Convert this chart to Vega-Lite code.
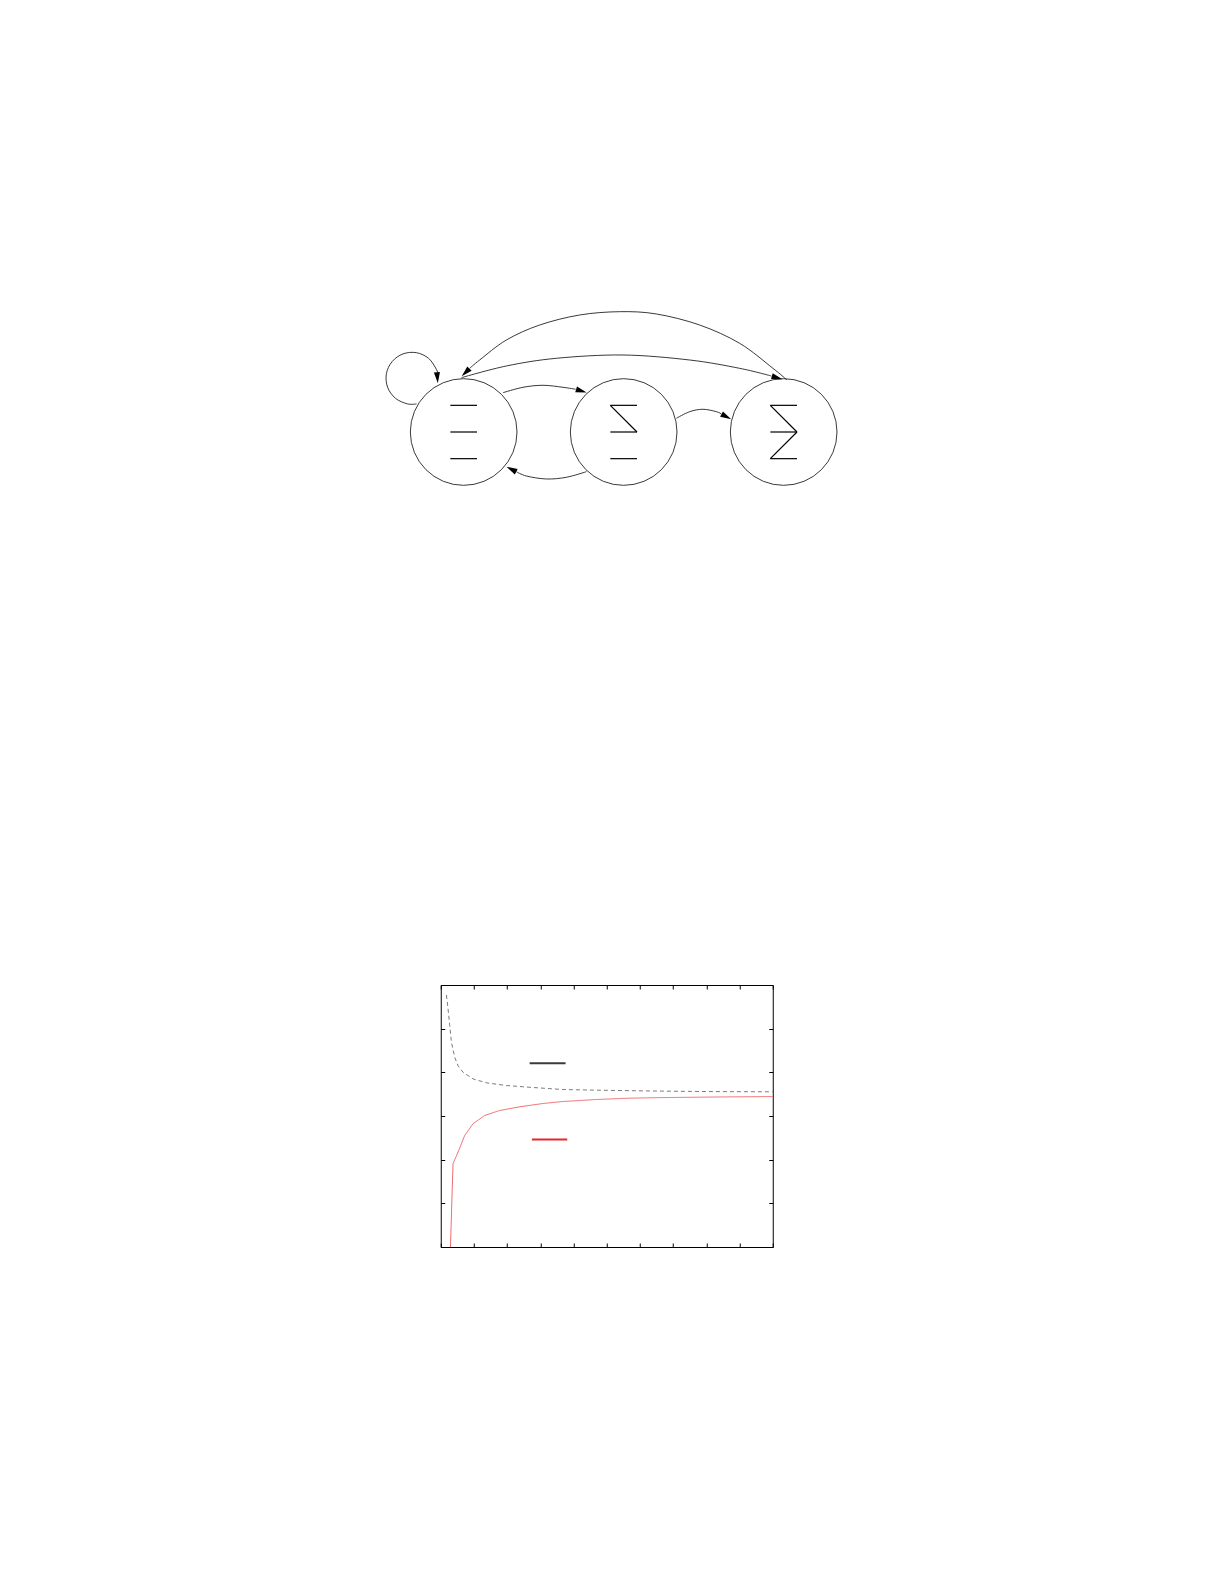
{
  "$schema": "https://vega.github.io/schema/vega-lite/v6.json",
  "padding": {"left": 357, "top": 290, "right": 0, "bottom": 0},
  "spacing": 494,
  "center": true,
  "config": {
    "view": {"stroke": null},
    "axis": {"labels": false, "grid": false, "tickSize": -4, "tickColor": "black", "domainColor": "black", "domainWidth": 1, "tickWidth": 1}
  },
  "datasets": {
    "nodes": [
      {"node": "s0", "u": 0, "v": 0},
      {"node": "s1", "u": 30, "v": 0},
      {"node": "s2", "u": 60, "v": 0}
    ],
    "glyphs": [
      {"node": "s0", "u1": -2.5, "v1": 5, "u2": 2.5, "v2": 5},
      {"node": "s0", "u1": -2.5, "v1": 0, "u2": 2.5, "v2": 0},
      {"node": "s0", "u1": -2.5, "v1": -5, "u2": 2.5, "v2": -5},
      {"node": "s1", "u1": 27.5, "v1": 5, "u2": 32.5, "v2": 5},
      {"node": "s1", "u1": 27.5, "v1": 5, "u2": 32.5, "v2": 0},
      {"node": "s1", "u1": 27.5, "v1": 0, "u2": 32.5, "v2": 0},
      {"node": "s1", "u1": 27.5, "v1": -5, "u2": 32.5, "v2": -5},
      {"node": "s2", "u1": 57.5, "v1": 5, "u2": 62.5, "v2": 5},
      {"node": "s2", "u1": 57.5, "v1": 5, "u2": 62.5, "v2": 0},
      {"node": "s2", "u1": 57.5, "v1": 0, "u2": 62.5, "v2": 0},
      {"node": "s2", "u1": 62.5, "v1": 0, "u2": 57.5, "v2": -5},
      {"node": "s2", "u1": 57.5, "v1": -5, "u2": 62.5, "v2": -5}
    ],
    "edges": [
      {"edge": "s2-s0", "i": 0, "u": 60.62, "v": 9.75},
      {"edge": "s2-s0", "i": 1, "u": 57.99, "v": 11.94},
      {"edge": "s2-s0", "i": 2, "u": 51.75, "v": 16.63},
      {"edge": "s2-s0", "i": 3, "u": 44.25, "v": 20.06},
      {"edge": "s2-s0", "i": 4, "u": 36.13, "v": 22.13},
      {"edge": "s2-s0", "i": 5, "u": 29.25, "v": 22.56},
      {"edge": "s2-s0", "i": 6, "u": 21.75, "v": 21.94},
      {"edge": "s2-s0", "i": 7, "u": 14.25, "v": 20.06},
      {"edge": "s2-s0", "i": 8, "u": 8.01, "v": 17.25},
      {"edge": "s2-s0", "i": 9, "u": 3.0, "v": 13.5},
      {"edge": "s2-s0", "i": 10, "u": 1.13, "v": 11.94},
      {"edge": "s0-s2", "i": 0, "u": -0.43, "v": 10.18},
      {"edge": "s0-s2", "i": 1, "u": 8.01, "v": 12.38},
      {"edge": "s0-s2", "i": 2, "u": 17.38, "v": 13.82},
      {"edge": "s0-s2", "i": 3, "u": 29.87, "v": 14.44},
      {"edge": "s0-s2", "i": 4, "u": 42.38, "v": 13.5},
      {"edge": "s0-s2", "i": 5, "u": 51.75, "v": 11.94},
      {"edge": "s0-s2", "i": 6, "u": 57.69, "v": 10.5},
      {"edge": "s0-s1", "i": 0, "u": 7.37, "v": 7.37},
      {"edge": "s0-s1", "i": 1, "u": 11.12, "v": 8.38},
      {"edge": "s0-s1", "i": 2, "u": 14.87, "v": 8.76},
      {"edge": "s0-s1", "i": 3, "u": 18.62, "v": 8.38},
      {"edge": "s0-s1", "i": 4, "u": 21.0, "v": 8.01},
      {"edge": "s1-s2", "i": 0, "u": 39.88, "v": 2.57},
      {"edge": "s1-s2", "i": 1, "u": 42.38, "v": 3.81},
      {"edge": "s1-s2", "i": 2, "u": 44.87, "v": 4.26},
      {"edge": "s1-s2", "i": 3, "u": 47.38, "v": 3.81},
      {"edge": "s1-s2", "i": 4, "u": 48.32, "v": 3.38},
      {"edge": "s1-s0", "i": 0, "u": 23.01, "v": -7.44},
      {"edge": "s1-s0", "i": 1, "u": 19.26, "v": -8.49},
      {"edge": "s1-s0", "i": 2, "u": 15.51, "v": -8.81},
      {"edge": "s1-s0", "i": 3, "u": 11.76, "v": -8.25},
      {"edge": "s1-s0", "i": 4, "u": 9.88, "v": -7.44},
      {"edge": "s0-s0", "i": 0, "u": -8.84, "v": 5.27},
      {"edge": "s0-s0", "i": 1, "u": -10.54, "v": 5.27},
      {"edge": "s0-s0", "i": 2, "u": -12.82, "v": 6.34},
      {"edge": "s0-s0", "i": 3, "u": -14.27, "v": 8.4},
      {"edge": "s0-s0", "i": 4, "u": -14.49, "v": 10.92},
      {"edge": "s0-s0", "i": 5, "u": -13.42, "v": 13.2},
      {"edge": "s0-s0", "i": 6, "u": -11.36, "v": 14.65},
      {"edge": "s0-s0", "i": 7, "u": -8.84, "v": 14.87},
      {"edge": "s0-s0", "i": 8, "u": -6.56, "v": 13.8},
      {"edge": "s0-s0", "i": 9, "u": -5.11, "v": 11.74},
      {"edge": "s0-s0", "i": 10, "u": -4.9, "v": 11.0}
    ],
    "arrows": [
      {"edge": "s2-s0", "u": 0.36, "v": 11.16, "heading": 225},
      {"edge": "s0-s2", "u": 58.78, "v": 10.18, "heading": 106},
      {"edge": "s0-s1", "u": 22.07, "v": 7.69, "heading": 107},
      {"edge": "s1-s2", "u": 49.26, "v": 2.87, "heading": 118},
      {"edge": "s1-s0", "u": 8.94, "v": -6.98, "heading": 297},
      {"edge": "s0-s0", "u": -4.93, "v": 10.16, "heading": 175}
    ],
    "curves": [
      {"series": "A", "x": 17.1, "y": 2.886},
      {"series": "A", "x": 22, "y": 2.726},
      {"series": "A", "x": 27.1, "y": 2.535},
      {"series": "A", "x": 32.2, "y": 2.344},
      {"series": "A", "x": 42.1, "y": 2.172},
      {"series": "A", "x": 52, "y": 2.077},
      {"series": "A", "x": 67.1, "y": 2.001},
      {"series": "A", "x": 97.1, "y": 1.925},
      {"series": "A", "x": 137.4, "y": 1.88},
      {"series": "A", "x": 197.6, "y": 1.849},
      {"series": "A", "x": 267.7, "y": 1.829},
      {"series": "A", "x": 367.8, "y": 1.803},
      {"series": "A", "x": 498.3, "y": 1.794},
      {"series": "A", "x": 638.5, "y": 1.786},
      {"series": "A", "x": 799, "y": 1.78},
      {"series": "A", "x": 1000, "y": 1.777},
      {"series": "B", "x": 29.2, "y": 0},
      {"series": "B", "x": 37, "y": 0.954},
      {"series": "B", "x": 52, "y": 1.086},
      {"series": "B", "x": 72.2, "y": 1.277},
      {"series": "B", "x": 97.1, "y": 1.411},
      {"series": "B", "x": 132.3, "y": 1.506},
      {"series": "B", "x": 177.4, "y": 1.563},
      {"series": "B", "x": 237.6, "y": 1.605},
      {"series": "B", "x": 307.7, "y": 1.643},
      {"series": "B", "x": 367.8, "y": 1.666},
      {"series": "B", "x": 468.3, "y": 1.689},
      {"series": "B", "x": 568.4, "y": 1.704},
      {"series": "B", "x": 668.6, "y": 1.711},
      {"series": "B", "x": 769, "y": 1.715},
      {"series": "B", "x": 869.2, "y": 1.719},
      {"series": "B", "x": 1000, "y": 1.723}
    ],
    "keys": [
      {"series": "A", "x": 267.7, "x2": 376, "y": 2.104},
      {"series": "B", "x": 274.6, "x2": 381, "y": 1.231}
    ]
  },
  "vconcat": [
    {
      "width": 500,
      "height": 200,
      "layer": [
        {
          "data": {"name": "edges"},
          "mark": {"type": "line", "interpolate": "cardinal", "color": "#222222", "strokeWidth": 0.9},
          "encoding": {
            "x": {"field": "u", "type": "quantitative", "scale": {"domain": [-20, 73.75], "nice": false, "zero": false}, "axis": null},
            "y": {"field": "v", "type": "quantitative", "scale": {"domain": [-10.875, 26.625], "nice": false, "zero": false}, "axis": null},
            "detail": {"field": "edge", "type": "nominal"},
            "order": {"field": "i", "type": "quantitative"}
          }
        },
        {
          "data": {"name": "nodes"},
          "mark": {"type": "point", "shape": "circle", "size": 11378, "filled": false, "color": "#222222", "strokeWidth": 0.9, "opacity": 1},
          "encoding": {
            "x": {"field": "u", "type": "quantitative"},
            "y": {"field": "v", "type": "quantitative"}
          }
        },
        {
          "data": {"name": "glyphs"},
          "mark": {"type": "rule", "color": "black", "strokeWidth": 1.2},
          "encoding": {
            "x": {"field": "u1", "type": "quantitative"},
            "y": {"field": "v1", "type": "quantitative"},
            "x2": {"field": "u2"},
            "y2": {"field": "v2"}
          }
        },
        {
          "data": {"name": "arrows"},
          "mark": {"type": "point", "shape": "M0,-1L0.55,1L-0.55,1Z", "filled": true, "color": "black", "size": 121, "opacity": 1},
          "encoding": {
            "x": {"field": "u", "type": "quantitative"},
            "y": {"field": "v", "type": "quantitative"},
            "angle": {"field": "heading", "type": "quantitative", "scale": null}
          }
        }
      ]
    },
    {
      "width": 332,
      "height": 262,
      "layer": [
        {
          "data": {"name": "curves"},
          "mark": {"type": "line", "strokeWidth": 0.9, "clip": true, "opacity": 0.75},
          "encoding": {
            "x": {"field": "x", "type": "quantitative", "scale": {"domain": [0, 1000], "nice": false}, "axis": {"orient": "bottom", "title": null, "values": [0, 100, 200, 300, 400, 500, 600, 700, 800, 900, 1000]}},
            "y": {"field": "y", "type": "quantitative", "scale": {"domain": [0, 3], "nice": false}, "axis": {"orient": "left", "title": null, "values": [0, 0.5, 1, 1.5, 2, 2.5, 3]}},
            "color": {"field": "series", "type": "nominal", "scale": {"domain": ["A", "B"], "range": ["#3a3a3a", "#e8262b"]}, "legend": null},
            "strokeDash": {"field": "series", "type": "nominal", "scale": {"domain": ["A", "B"], "range": [[4, 3], [1, 0]]}, "legend": null}
          }
        },
        {
          "data": {"name": "keys"},
          "mark": {"type": "rule", "strokeWidth": 2.2},
          "encoding": {
            "x": {"field": "x", "type": "quantitative", "axis": {"orient": "top", "title": null, "values": [0, 100, 200, 300, 400, 500, 600, 700, 800, 900, 1000]}},
            "x2": {"field": "x2"},
            "y": {"field": "y", "type": "quantitative", "axis": {"orient": "right", "title": null, "values": [0, 0.5, 1, 1.5, 2, 2.5, 3]}},
            "color": {"field": "series", "type": "nominal", "legend": null}
          }
        }
      ],
      "resolve": {"axis": {"x": "independent", "y": "independent"}}
    }
  ]
}
